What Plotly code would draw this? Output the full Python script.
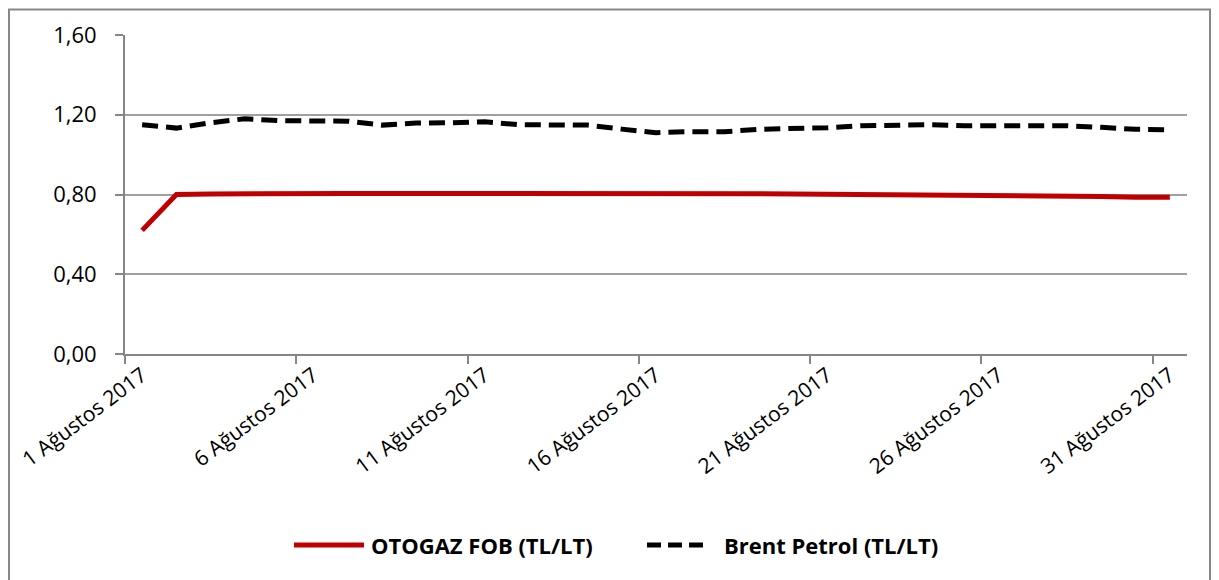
import plotly.graph_objects as go

# ---- data ----
days = list(range(1, 32))
tick_days = [1, 6, 11, 16, 21, 26, 31]
tick_labels = [f"{d} Ağustos 2017" for d in tick_days]

otogaz = [0.62, 0.800, 0.803, 0.805, 0.805, 0.805, 0.805, 0.805, 0.805, 0.808,
          0.810, 0.810, 0.810, 0.810, 0.810, 0.808, 0.806, 0.805, 0.804, 0.803,
          0.802, 0.800, 0.798, 0.796, 0.795, 0.794, 0.794, 0.794, 0.790, 0.786,
          0.786]
brent = [1.150, 1.133, 1.160, 1.180, 1.170, 1.170, 1.168, 1.148, 1.158, 1.160,
         1.165, 1.150, 1.150, 1.148, 1.128, 1.110, 1.115, 1.115, 1.127, 1.130,
         1.135, 1.145, 1.148, 1.150, 1.145, 1.145, 1.145, 1.145, 1.137, 1.127,
         1.125]

series_names = ["OTOGAZ FOB (TL/LT)", "Brent Petrol (TL/LT)"]

RED = "#C00000"
FONT = "Open Sans"

# figure is drawn 8px from the page corner (body margin)
W, H = 1219, 580
ML, MR, MT, MB = 117, 40, 27, 234
PW = W - ML - MR
PH = H - MT - MB


def px(xpage):
    return (xpage - 8 - ML) / PW


def py(ypage):
    return (H - MB + 8 - ypage) / PH


fig = go.Figure()
fig.add_trace(go.Scatter(x=days, y=otogaz, mode="lines", name=series_names[0],
                         line=dict(color=RED, width=5), showlegend=False))
fig.add_trace(go.Scatter(x=days, y=brent, mode="lines", name=series_names[1],
                         line=dict(color="black", width=5, dash="16px,8px"),
                         showlegend=False))

# custom legend (paper coords)
ly = py(545)
fig.add_shape(type="line", xref="paper", yref="paper", x0=px(294), x1=px(364), y0=ly, y1=ly,
              line=dict(color=RED, width=5))
fig.add_shape(type="line", xref="paper", yref="paper", x0=px(647), x1=px(710), y0=ly, y1=ly,
              line=dict(color="black", width=5, dash="14px,7px"))
fig.add_annotation(xref="paper", yref="paper", x=px(369), y=ly, xanchor="left", yanchor="middle",
                   text="<b>" + series_names[0] + "</b>", showarrow=False,
                   font=dict(family=FONT, size=22, color="black"))
fig.add_annotation(xref="paper", yref="paper", x=px(722), y=ly, xanchor="left", yanchor="middle",
                   text="<b>" + series_names[1] + "</b>", showarrow=False,
                   font=dict(family=FONT, size=22, color="black"))

# outer chart border
fig.add_shape(type="rect", xref="paper", yref="paper", x0=px(9), x1=px(1210),
              y0=py(590), y1=py(9.5), line=dict(color="#878787", width=2), layer="below")

fig.update_layout(
    width=W, height=H,
    margin=dict(l=ML, r=MR, t=MT, b=MB, autoexpand=False),
    paper_bgcolor="white", plot_bgcolor="white",
    separators=",.",
    font=dict(family=FONT, size=22, color="black"),
    showlegend=False,
)
fig.update_xaxes(
    range=[0.5, 31.5],
    tickmode="array",
    tickvals=[d - 0.5 for d in tick_days],
    ticktext=tick_labels,
    tickangle=-37,
    ticks="outside", ticklen=8, tickcolor="#868686", tickwidth=2,
    showline=True, linecolor="#868686", linewidth=2,
    showgrid=False, zeroline=False,
    ticklabelshift=17,
    ticklabelstandoff=-9,
    tickfont=dict(family=FONT, size=21),
    automargin=False,
)
fig.update_yaxes(
    range=[0, 1.6],
    tickmode="array",
    tickvals=[0, 0.4, 0.8, 1.2, 1.6],
    tickformat=".2f",
    ticks="outside", ticklen=8, tickcolor="#868686", tickwidth=2,
    showline=True, linecolor="#868686", linewidth=2,
    showgrid=True, gridcolor="#A0A0A0", gridwidth=2,
    zeroline=False,
    ticklabelstandoff=14,
    tickfont=dict(family=FONT, size=22),
    automargin=False,
)

fig.write_html("out.html")
